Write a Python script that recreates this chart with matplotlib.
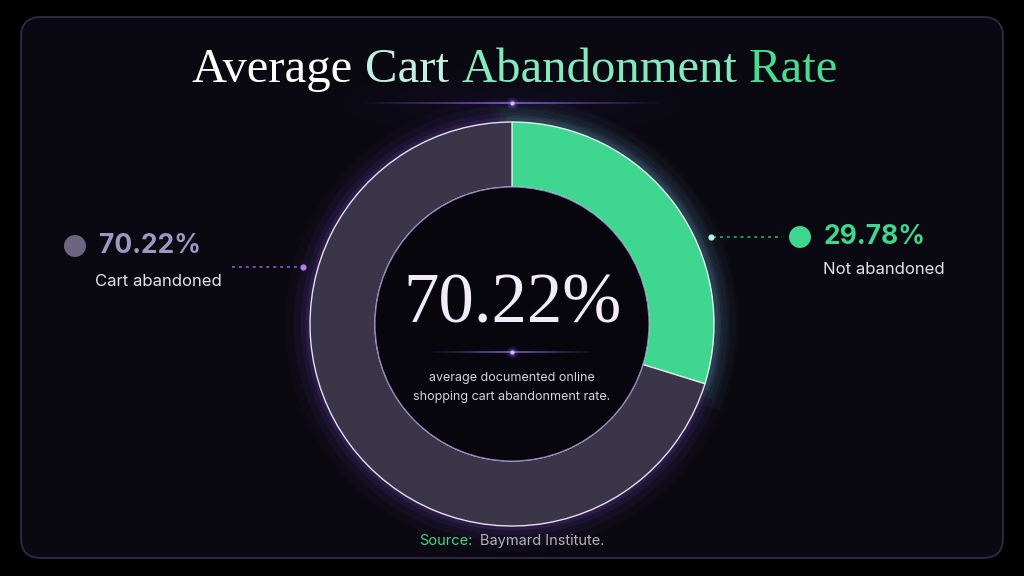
import numpy as np
import matplotlib.pyplot as plt
from matplotlib.patches import FancyBboxPatch, Circle, Wedge, Ellipse

# данные
labels = ['Not abandoned', 'Cart abandoned']
values = [29.78, 70.22]
colors = ['#3fd68f', '#3a3549']
title_words = ['Average', 'Cart', 'Abandonment', 'Rate']
title_colors = ['#ffffff', '#c2f3e0', '#86e9bd', '#45dd92']
subtitle = ['average documented online', 'shopping cart abandonment rate.']
source = ('Source:', 'Baymard Institute.')

W, H = 1024, 576
SANS = ['Inter', 'DejaVu Sans']
SERIF = ['Liberation Serif', 'DejaVu Serif']


def Y(y):
    # пиксели сверху -> координаты осей
    return H - y


fig = plt.figure(figsize=(10.24, 5.76), dpi=100)
fig.patch.set_facecolor('black')
ax = fig.add_axes([0, 0, 1, 1])

# рамка
frame = FancyBboxPatch((21, Y(558)), 982, 541,
                       boxstyle='round,pad=0,rounding_size=20',
                       facecolor='#0a0911', edgecolor='#302b45', lw=1.3, zorder=0)
ax.add_patch(frame)

# мягкое свечение вверху
for w, a in [(340, 0.015), (240, 0.02), (140, 0.03)]:
    ax.add_patch(Ellipse((512, Y(102)), w, w * 0.2, color='#5a3fb0', alpha=a, lw=0, zorder=1))

cx, cy = 512, Y(324)
R, ring = 202, 65

# свечение вокруг кольца
for lw, a in [(34, 0.03), (22, 0.05), (12, 0.07), (5, 0.12)]:
    ax.add_patch(Circle((cx, cy), R + 1, fill=False, ec='#8a5cf0', lw=lw, alpha=a, zorder=2))
# зелёное свечение
theta_end = 90 - values[0] / 100 * 360
for lw, a in [(30, 0.04), (18, 0.06), (8, 0.1)]:
    ax.add_patch(Wedge((cx, cy), R + 1, theta_end, 90, width=0.1, fill=False,
                       ec='#3fd68f', lw=lw, alpha=a, zorder=2))

wedges, _ = ax.pie(values, colors=colors, startangle=90, counterclock=False,
                   center=(cx, cy), radius=R,
                   wedgeprops=dict(width=ring, edgecolor='#e6e0f2', linewidth=1.0))
for wd in wedges:
    wd.set_zorder(3)
wedges[0].set_edgecolor('#d8fbe9')

# внутренний круг
ax.add_patch(Circle((cx, cy), R - ring, fc='#07060c', ec='#8f7fc0', lw=0.8, zorder=3))

ax.set_xlim(0, W)
ax.set_ylim(0, H)
ax.set_aspect('equal')
ax.axis('off')

renderer = fig.canvas.get_renderer()

# заголовок по словам
tsize = 35
widths = []
for wrd in title_words:
    t = ax.text(0, 0, wrd, fontsize=tsize, family=SERIF)
    widths.append(t.get_window_extent(renderer).width)
    t.remove()
sp = ax.text(0, 0, 'a a', fontsize=tsize, family=SERIF)
sp2 = ax.text(0, 0, 'aa', fontsize=tsize, family=SERIF)
space = sp.get_window_extent(renderer).width - sp2.get_window_extent(renderer).width
sp.remove()
sp2.remove()
total = sum(widths) + space * (len(title_words) - 1)
x = 515 - total / 2
for wrd, wd, c in zip(title_words, widths, title_colors):
    ax.text(x, Y(82), wrd, fontsize=tsize, family=SERIF, color=c, ha='left', va='baseline', zorder=5)
    x += wd + space

# светящиеся линии
def glow_line(x0, x1, y, c='#8a5cf0'):
    xs = np.linspace(x0, x1, 60)
    for i in range(len(xs) - 1):
        d = abs((xs[i] + xs[i + 1]) / 2 - 512) / ((x1 - x0) / 2)
        ax.plot(xs[i:i + 2], [y, y], color=c, lw=1.3, alpha=max(0.0, 1 - d) * 0.9,
                solid_capstyle='butt', zorder=5)
    for s, a in [(9, 0.12), (6, 0.3), (3, 1.0)]:
        ax.plot(512, y, 'o', ms=s, color='#d2c2ff' if s < 4 else c, alpha=a, mec='none', zorder=6)

glow_line(360, 665, Y(103))
glow_line(430, 595, Y(352))

# центр
ax.text(512, Y(305), '70.22%', fontsize=51, family=SERIF, color='#f2ecfa',
        ha='center', va='center', zorder=6)
ax.text(512, Y(378), subtitle[0], fontsize=9, family=SANS, color='#d6d4de',
        ha='center', va='center', zorder=6)
ax.text(512, Y(397), subtitle[1], fontsize=9, family=SANS, color='#d6d4de',
        ha='center', va='center', zorder=6)

# левая подпись
ax.add_patch(Circle((75, Y(246)), 11, fc='#6c6580', ec='none', zorder=6))
ax.text(99, Y(246), f'{values[1]:.2f}%', fontsize=19, family=SANS, weight='bold',
        color='#a096c2', ha='left', va='center', zorder=6)
ax.text(95, Y(281), labels[1], fontsize=12, family=SANS, color='#e4e2ea',
        ha='left', va='center', zorder=6)
ax.plot([232, 300], [Y(267), Y(267)], ls=(0, (2, 2.5)), color='#8e62d8', lw=1.1, zorder=6)
ax.plot(303, Y(267), 'o', ms=4.5, color='#b27cf5', mec='none', zorder=6)

# правая подпись
ax.plot([713, 782], [Y(237), Y(237)], ls=(0, (2, 2.5)), color='#35b878', lw=1.1, zorder=6)
ax.plot(711, Y(237), 'o', ms=4.5, color='#b8f5d8', mec='none', zorder=6)
ax.add_patch(Circle((800, Y(237)), 11, fc='#3fd68f', ec='none', zorder=6))
ax.text(824, Y(237), f'{values[0]:.2f}%', fontsize=19, family=SANS, weight='bold',
        color='#3fd68f', ha='left', va='center', zorder=6)
ax.text(823, Y(269), labels[0], fontsize=12, family=SANS, color='#e4e2ea',
        ha='left', va='center', zorder=6)

# источник
s1 = ax.text(0, 0, source[0] + ' ', fontsize=10.5, family=SANS)
w1 = s1.get_window_extent(renderer).width
s1.remove()
s2 = ax.text(0, 0, source[1], fontsize=10.5, family=SANS)
w2 = s2.get_window_extent(renderer).width
s2.remove()
x0 = 512 - (w1 + 4 + w2) / 2
ax.text(x0, Y(541), source[0], fontsize=10.5, family=SANS, color='#3fd68f',
        ha='left', va='center', zorder=6)
ax.text(x0 + w1 + 4, Y(541), source[1], fontsize=10.5, family=SANS, color='#b4b2bc',
        ha='left', va='center', zorder=6)

fig.savefig('out.png', dpi=100, facecolor=fig.get_facecolor())
